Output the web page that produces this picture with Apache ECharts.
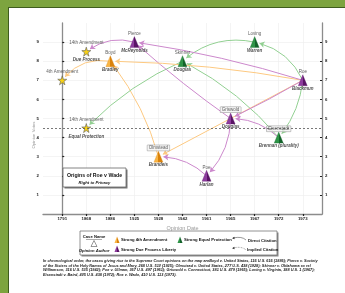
<!DOCTYPE html>
<html><head><meta charset="utf-8">
<script src="https://cdn.jsdelivr.net/npm/echarts@6/dist/echarts.min.js"></script>
<style>
html,body{margin:0;padding:0;width:345px;height:293px;overflow:hidden;background:#7da43f;}
#panel{position:absolute;left:8px;top:7px;width:337px;height:286px;box-sizing:border-box;background:#fff;border-left:1px solid #3f5d1e;border-top:1px solid #3f5d1e;}
#chart{position:absolute;left:0;top:0;width:345px;height:293px;}
</style></head><body><div id="panel"></div><div id="chart"></div>
<script>
// ---- data ----
const years = ['1791','1868','1886','1925','1928','1942','1961','1965','1967','1972','1973'];
const caseNames = ['4th Amendment','14th Amendment','14th Amendment','Boyd','Pierce','Olmstead','Skinner','Poe','Griswold','Loving','Eisenstadt','Roe'];
const opinionAuthors = ['','Due Process','Equal Protection','Bradley','McReynolds','Brandeis','Douglas','Harlan','Douglas','Warren','Brennan (plurality)','Blackmun'];
const opinionDateIdx = [0,1,1,2,3,4,5,6,7,8,9,10];
const opinionVotes = [7,8.5,4.5,8,9,3,8,2,5,9,4,7];
const caseCategory = ['source','source','source','fourth','liberty','fourth','equal','liberty','liberty','equal','equal','liberty'];
const citingCase = [3,4,5,6,7,8,8,9,10,10,11,11,11,11,11,11];
const citedCase  = [0,1,3,2,5,4,7,6,6,8,3,4,5,8,9,10];
const citationStrand = ['fourth','liberty','fourth','equal','liberty','liberty','liberty','equal','equal','liberty','fourth','liberty','fourth','liberty','equal','equal'];
const yTicks = [1,2,3,4,5,6,7,8,9];
const thresholdVotes = [4.5];
const footnoteLines = [
 'In chronological order, the cases giving rise to the Supreme Court opinions on the map areBoyd v. United States, 116 U.S. 616 (1886); Pierce v. Society',
 'of the Sisters of the Holy Names of Jesus and Mary, 268 U.S. 510 (1925); Olmstead v. United States, 277 U.S. 438 (1928); Skinner v. Oklahoma ex rel',
 'Williamson, 316 U.S. 535 (1942); Poe v. Ullman, 367 U.S. 497 (1961); Griswold v. Connecticut, 381 U.S. 479 (1965); Loving v. Virginia, 388 U.S. 1 (1967);',
 'Eisenstadt v. Baird, 405 U.S. 438 (1972); Roe v. Wade, 410 U.S. 113 (1973).'
];

// ---- styles ----
const edgeCurve = [-0.3,-0.25,-0.1,-0.1,-0.2,0.03,0.2,-0.25,-0.1,-0.2,-0.04,-0.04,0,0.02,-0.25,0.15];
const edgeColor = {fourth:'#fdc981', liberty:'#cc88cc', equal:'#92d092'};
const nodeLight = {fourth:'#f9b545', liberty:'#8e3c9e', equal:'#2e9447'};
const nodeDark  = {fourth:'#d9820c', liberty:'#5a1466', equal:'#13632a'};
const boxedLabels = ['Olmstead','Griswold','Eisenstadt'];
const starPath = 'path://M50,0 L61,35 L98,35 L68,57 L79,91 L50,70 L21,91 L32,57 L2,35 L39,35 Z';
const FONT = 'Liberation Sans';

function pyramid(cat){
  return {type:'linear',x:0,y:0,x2:1,y2:0,colorStops:[
    {offset:0,color:nodeLight[cat]},{offset:0.5,color:nodeLight[cat]},
    {offset:0.5,color:nodeDark[cat]},{offset:1,color:nodeDark[cat]}]};
}

const nodes = caseNames.map((n,i)=>{
  const cat = caseCategory[i];
  if (cat === 'source') return {value:[opinionDateIdx[i], opinionVotes[i]], symbol:starPath, symbolSize:9,
    itemStyle:{color:'#f7d117', borderColor:'#5a5a5a', borderWidth:0.6}};
  return {value:[opinionDateIdx[i], opinionVotes[i]], symbol:'triangle', symbolSize:[9,11],
    itemStyle:{color:pyramid(cat), borderColor:nodeDark[cat], borderWidth:0.3}};
});
const links = citingCase.map((s,i)=>({source:s, target:citedCase[i],
  lineStyle:{color:edgeColor[citationStrand[i]], curveness:edgeCurve[i], width:1, opacity:1}}));

const caseLabelData = caseNames.map((n,i)=>{
  const boxed = boxedLabels.indexOf(n) >= 0;
  return {value:[opinionDateIdx[i], opinionVotes[i]], name:n,
    label: boxed ? {backgroundColor:'#f2f2f2', borderColor:'#8a8a8a', borderWidth:0.5, padding:[0.5,1.5,0,1.5]} : {}};
});
const authorLabelData = opinionAuthors.map((n,i)=>({value:[opinionDateIdx[i], opinionVotes[i]], name:n}));

const xTickVals = years.map((y,i)=>i);

const chart = echarts.init(document.getElementById('chart'), null, {renderer:'canvas'});
const axisLineStyle = {color:'#8c8c8c', width:1.3};
chart.setOption({
  animation:false,
  textStyle:{fontFamily:FONT},
  grid:{left:43, right:23, top:23, bottom:79, containLabel:false},
  xAxis:{type:'value', min:-0.8, max:10.8,
    name:'Opinion Date', nameLocation:'middle', nameGap:10,
    nameTextStyle:{color:'#9a9a9a', fontSize:5.5, fontFamily:FONT},
    axisLine:{show:true, lineStyle:axisLineStyle},
    axisTick:{show:true, customValues:xTickVals, length:2, lineStyle:{color:'#222', width:1.2}},
    axisLabel:{customValues:xTickVals, formatter:v=>years[v], fontSize:4.3, fontWeight:'bold', color:'#222', margin:3},
    splitLine:{show:true, lineStyle:{color:'#ececec', width:0.6}}
  },
  yAxis:[
    {type:'value', min:0, max:10, position:'left',
     axisLine:{show:true, lineStyle:axisLineStyle},
     axisTick:{show:true, customValues:yTicks, length:2, inside:true, lineStyle:{color:'#222', width:1.2}},
     axisLabel:{customValues:yTicks, fontSize:4.3, fontWeight:'bold', color:'#222', margin:4},
     splitLine:{show:true, lineStyle:{color:'#ececec', width:0.6}}},
    {type:'value', min:0, max:10, position:'right',
     axisLine:{show:true, lineStyle:axisLineStyle},
     axisTick:{show:true, customValues:yTicks, length:2, inside:true, lineStyle:{color:'#222', width:1.2}},
     axisLabel:{customValues:yTicks, fontSize:4.3, fontWeight:'bold', color:'#222', margin:3},
     splitLine:{show:false}}
  ],
  series:[
    {type:'scatter', name:'threshold', data:[], symbolSize:0, silent:true,
     markLine:{silent:true, symbol:'none', label:{show:false},
       lineStyle:{color:'#555', type:[2,2], width:0.8},
       data:thresholdVotes.map(v=>({yAxis:v}))}},
    {type:'graph', coordinateSystem:'cartesian2d', layout:'none', z:3,
     data:nodes, links:links, edgeSymbol:['none','arrow'], edgeSymbolSize:[0,5],
     label:{show:false}, emphasis:{disabled:true}},
    {type:'scatter', data:caseLabelData, symbolSize:0, z:4, silent:true,
     label:{show:true, position:'top', distance:6, formatter:'{b}', fontSize:4.5, color:'#333', fontFamily:FONT}},
    {type:'scatter', data:authorLabelData, symbolSize:0, z:4, silent:true,
     label:{show:true, position:'bottom', distance:6, formatter:'{b}', fontSize:4.5, color:'#222', fontStyle:'italic', fontWeight:'bold', fontFamily:FONT}}
  ],
  graphic:[
    {type:'text', x:34, y:135, rotation:Math.PI/2, z:12, style:{text:'Opinion Votes', font:'4.3px '+FONT, fill:'#9a9a9a', align:'center', verticalAlign:'middle'}},
    // title box
    {type:'rect', shape:{x:64.5,y:169.5,width:63,height:19}, style:{fill:'#777'}, z:10},
    {type:'rect', shape:{x:63,y:168,width:63,height:19}, style:{fill:'#fff', stroke:'#666', lineWidth:0.8}, z:11},
    {type:'text', x:94.5, y:176, z:12, style:{text:'Origins of Roe v Wade', font:'bold 5.2px '+FONT, fill:'#111', align:'center', verticalAlign:'middle'}},
    {type:'text', x:94.5, y:183, z:12, style:{text:'Right to Privacy', font:'italic bold 4.2px '+FONT, fill:'#111', align:'center', verticalAlign:'middle'}},
    // legend box
    {type:'rect', shape:{x:81.5,y:232.5,width:197,height:24}, style:{fill:'#888'}, z:10},
    {type:'rect', shape:{x:80,y:231,width:197,height:24}, style:{fill:'#fff', stroke:'#777', lineWidth:0.8}, z:11},
    {type:'text', x:94, y:237, z:12, style:{text:'Case Name', font:'bold 4.2px '+FONT, fill:'#111', align:'center', verticalAlign:'middle'}},
    {type:'line', shape:{x1:86,y1:239.5,x2:102,y2:239.5}, style:{stroke:'#333', lineWidth:0.4}, z:12},
    {type:'polygon', shape:{points:[[94,240.5],[91,246.5],[97,246.5]]}, style:{fill:'#fff', stroke:'#333', lineWidth:0.5}, z:12},
    {type:'text', x:94, y:250.5, z:12, style:{text:'Opinion Author', font:'italic bold 4.2px '+FONT, fill:'#111', align:'center', verticalAlign:'middle'}},
    {type:'polygon', shape:{points:[[117,236.5],[114.5,243],[119.5,243]]}, style:{fill:pyramid('fourth')}, z:12},
    {type:'text', x:121, y:240, z:12, style:{text:'Strong 4th Amendment', font:'bold 4.2px '+FONT, fill:'#111', verticalAlign:'middle'}},
    {type:'polygon', shape:{points:[[117,245.5],[114.5,252],[119.5,252]]}, style:{fill:pyramid('liberty')}, z:12},
    {type:'text', x:121, y:249.5, z:12, style:{text:'Strong Due Process Liberty', font:'bold 4.2px '+FONT, fill:'#111', verticalAlign:'middle'}},
    {type:'polygon', shape:{points:[[180,236.5],[177.5,243],[182.5,243]]}, style:{fill:pyramid('equal')}, z:12},
    {type:'text', x:184, y:240, z:12, style:{text:'Strong Equal Protection', font:'bold 4.2px '+FONT, fill:'#111', verticalAlign:'middle'}},
    {type:'bezierCurve', shape:{x1:246,y1:240,cpx1:242,cpy1:236,x2:233,y2:238}, style:{stroke:'#333', lineWidth:0.5, fill:null}, z:12},
    {type:'polygon', shape:{points:[[232,238.3],[234.5,236.8],[234.5,239.3]]}, style:{fill:'#333'}, z:12},
    {type:'text', x:248, y:240.5, z:12, style:{text:'Direct Citation', font:'bold 4.2px '+FONT, fill:'#111', verticalAlign:'middle'}},
    {type:'bezierCurve', shape:{x1:246,y1:250,cpx1:242,cpy1:246,x2:233,y2:248}, style:{stroke:'#333', lineWidth:0.5, lineDash:[0.8,0.8], fill:null}, z:12},
    {type:'polygon', shape:{points:[[232,248.3],[234.5,246.8],[234.5,249.3]]}, style:{fill:'#333'}, z:12},
    {type:'text', x:247, y:250, z:12, style:{text:'Implied Citation', font:'bold 4.2px '+FONT, fill:'#111', verticalAlign:'middle'}}
  ].concat(footnoteLines.map((t,i)=>({type:'text', x:43, y:261 + i*4.7, z:12,
     style:{text:t, font:'italic bold 3.85px '+FONT, fill:'#222', verticalAlign:'middle'}})))
});
</script></body></html>
